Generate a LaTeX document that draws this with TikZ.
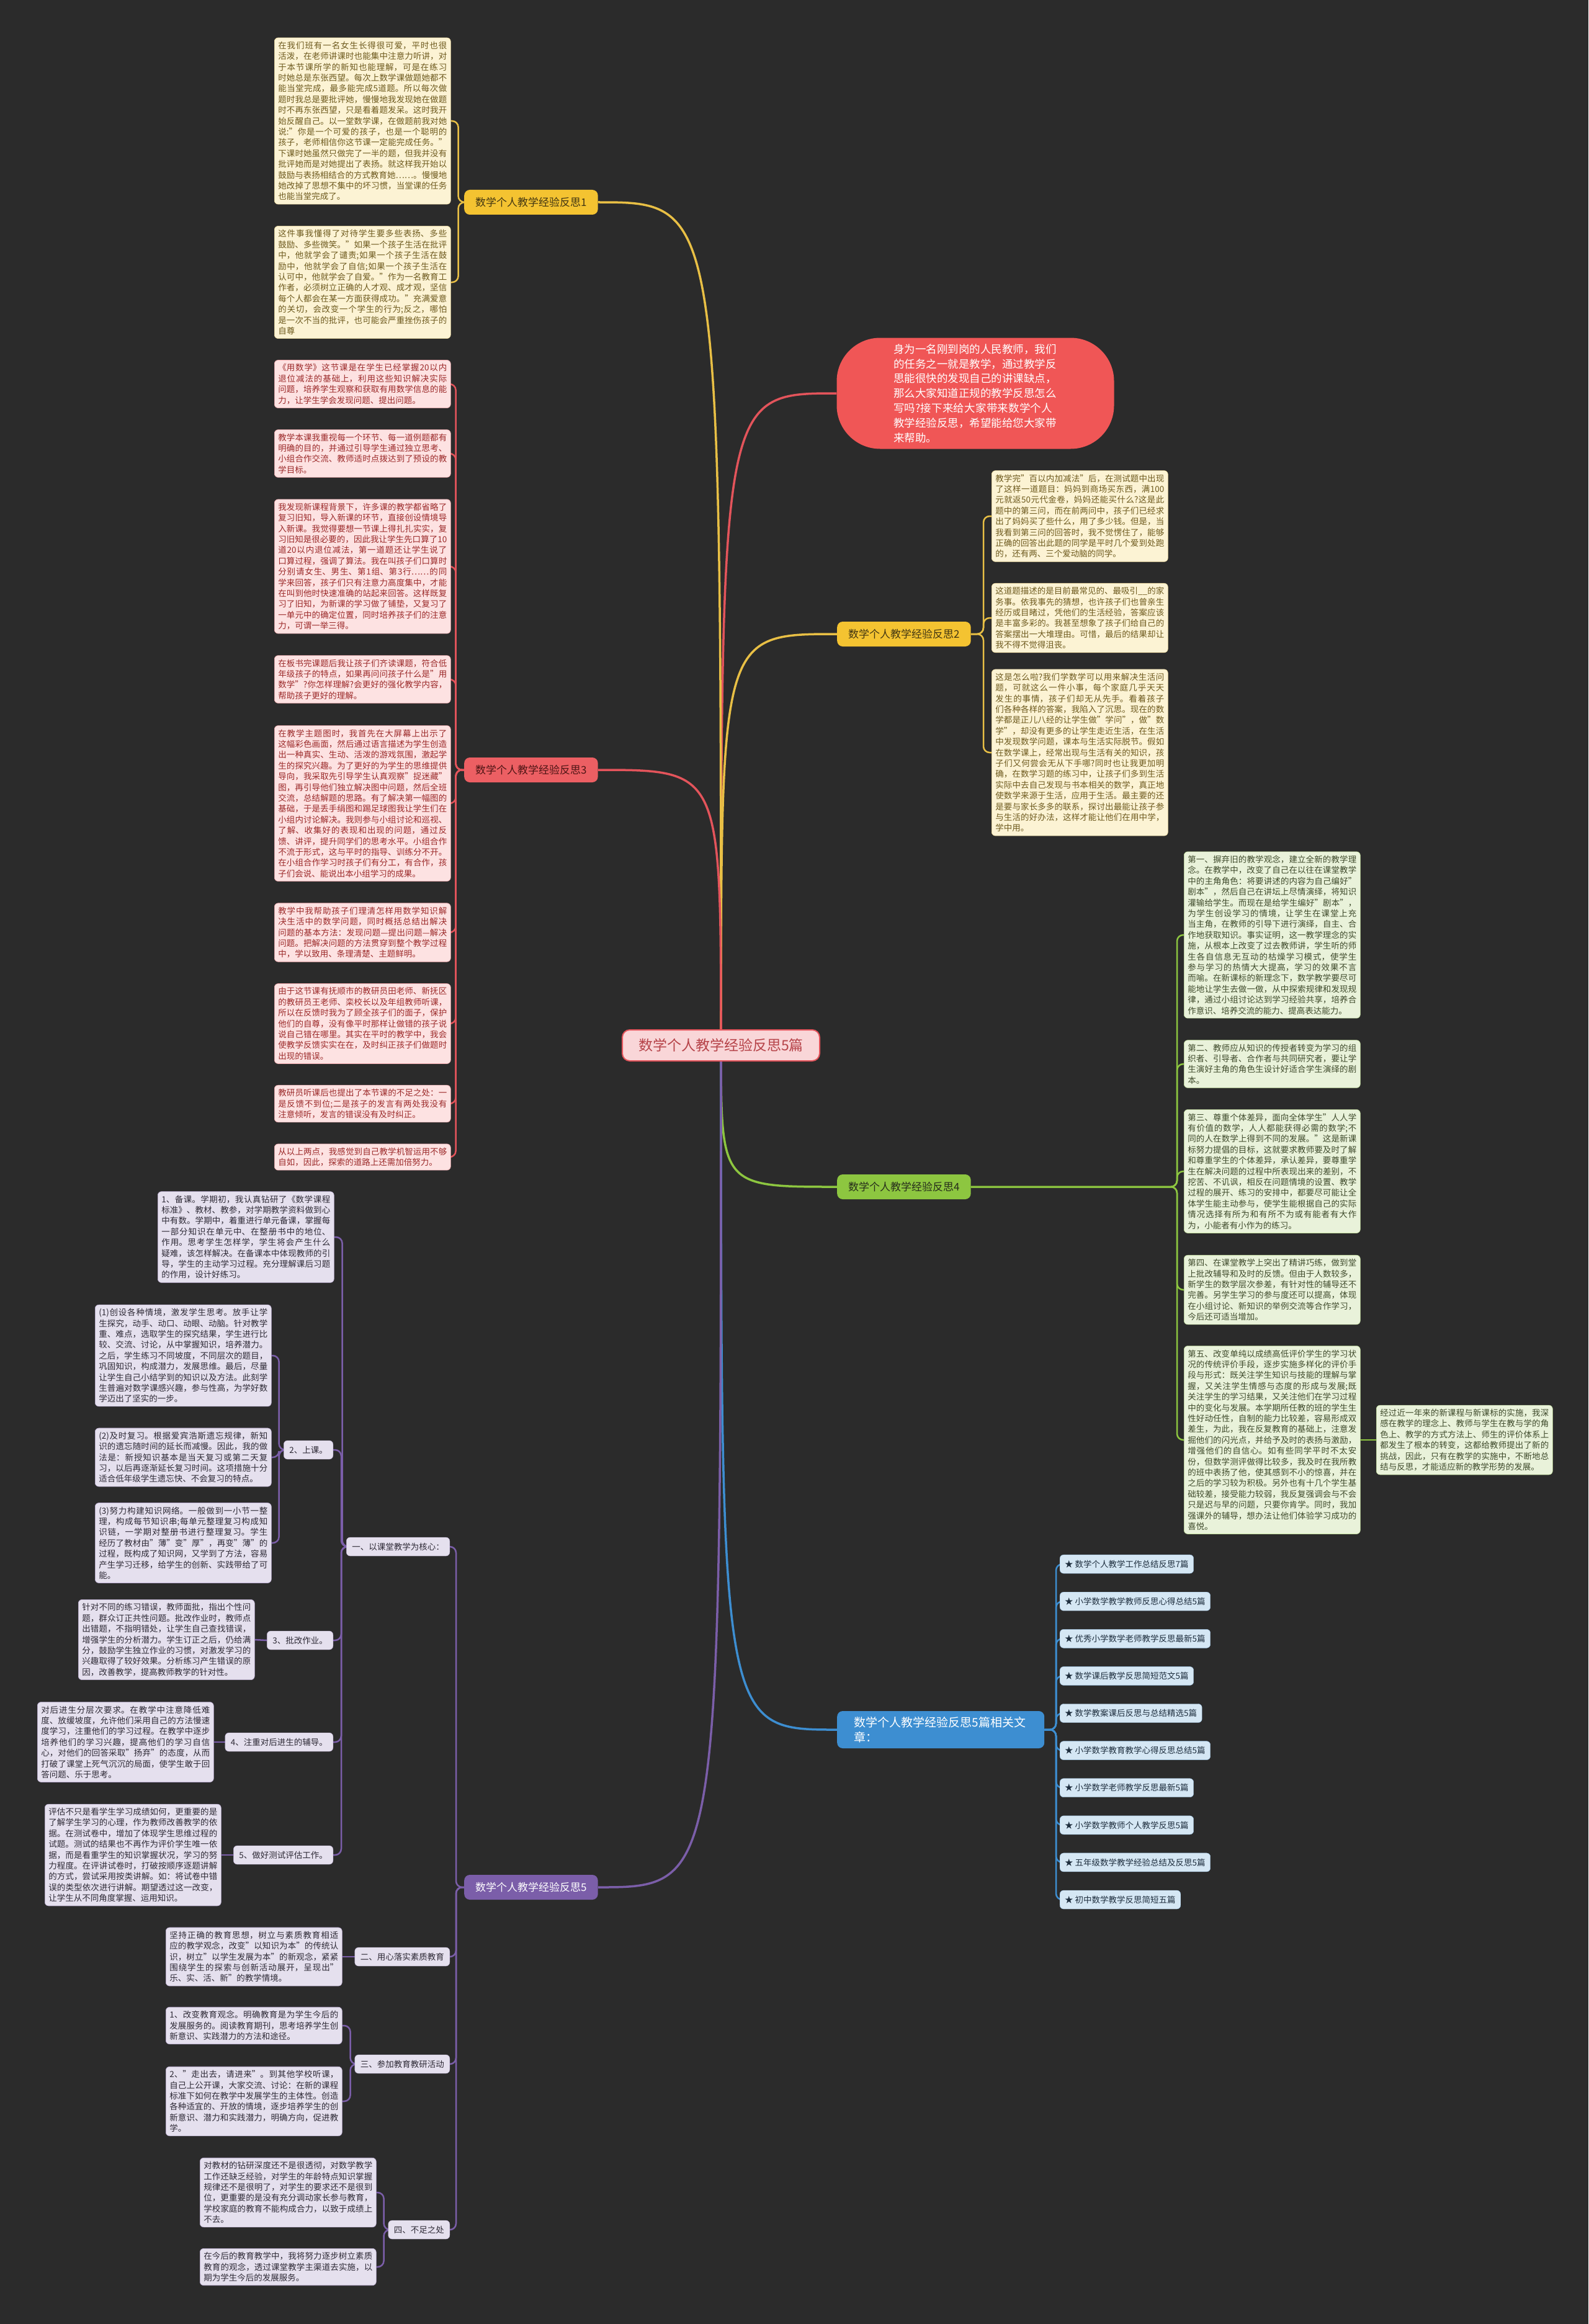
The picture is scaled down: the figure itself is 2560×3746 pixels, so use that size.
\documentclass[tikz,border=0pt]{standalone}
\usepackage{fontspec}
\setmainfont{Noto Sans CJK SC}
\XeTeXlinebreaklocale "zh"
\XeTeXlinebreakskip=0pt plus 1pt
\usetikzlibrary{calc}

\definecolor{bgc}{HTML}{2B2B2B}
\definecolor{ylwline}{HTML}{E8BF45}
\definecolor{ylwfill}{HTML}{FCF3D4}
\definecolor{ylwtext}{HTML}{6E5A1E}
\definecolor{ylwnode}{HTML}{F4C331}
\definecolor{redline}{HTML}{E3545B}
\definecolor{redfill}{HTML}{FDE2E2}
\definecolor{redtext}{HTML}{9C2A2A}
\definecolor{rednode}{HTML}{EC5F63}
\definecolor{grnline}{HTML}{8DC640}
\definecolor{grnfill}{HTML}{E9F2DA}
\definecolor{grntext}{HTML}{3F4B2C}
\definecolor{bluline}{HTML}{3D8ED1}
\definecolor{blufill}{HTML}{D5E7F4}
\definecolor{blutext}{HTML}{1E2E3E}
\definecolor{purline}{HTML}{7B5EA9}
\definecolor{purfill}{HTML}{E5E0EE}
\definecolor{purtext}{HTML}{2E2A36}
\definecolor{ctrfill}{HTML}{F9D6D8}
\definecolor{bubfill}{HTML}{F05656}

\pgfdeclarelayer{back}
\pgfdeclarelayer{lines}
\pgfsetlayers{back,lines,main}

\tikzset{
  leaf/.style={rounded corners=6pt, text width=272pt, inner xsep=6pt, inner ysep=6pt,
    align=justify, anchor=west, line width=0.6pt, font=\fontsize{13.5}{17.4}\selectfont},
  yleaf/.style={leaf, fill=ylwfill, draw=ylwline!50, text=ylwtext},
  rleaf/.style={leaf, fill=redfill, draw=redline!50, text=redtext},
  gleaf/.style={leaf, fill=grnfill, draw=grnline!50, text=grntext},
  pleaf/.style={leaf, fill=purfill, draw=purline!50, text=purtext},
  branch/.style={rounded corners=9pt, inner xsep=18pt, minimum height=40pt, anchor=west,
    font=\fontsize{17}{21}\selectfont},
  twig/.style={rounded corners=6pt, inner xsep=9pt, minimum height=30pt, anchor=east,
    fill=purfill, draw=purline!50, text=purtext, font=\fontsize{13.5}{16}\selectfont},
  link/.style={rounded corners=6pt, inner xsep=8pt, minimum height=30pt, anchor=west,
    fill=blufill, draw=bluline!50, text=blutext, font=\fontsize{13.5}{16}\selectfont},
  tie/.style={line width=2.5pt, rounded corners=10pt},
  curve/.style={line width=3.5pt},
}

\begin{document}
\begin{tikzpicture}[x=1pt, y=-1pt]
  \useasboundingbox (0,0) rectangle (2560,3746);
  \begin{pgfonlayer}{back}
    \fill[bgc] (0,0) rectangle (2560,3746);
  \end{pgfonlayer}

  % Centre and intro
  \node[rounded corners=12pt, fill=ctrfill, draw=redline, line width=2pt, minimum width=318pt,
    minimum height=50pt, text=redline!80!black, font=\fontsize{23}{27}\selectfont]
    (ctr) at (1162,1685) {数学个人教学经验反思5篇};
  \node[rounded corners=70pt, fill=bubfill, minimum width=447pt, minimum height=179pt,
    text=white, font=\fontsize{17.5}{23.8}\selectfont, align=left, text width=264pt]
    (bub) at (1572,634) {身为一名刚到岗的人民教师，我们的任务之一就是教学，通过教学反思能很快的发现自己的讲课缺点，那么大家知道正规的教学反思怎么写吗?接下来给大家带来数学个人教学经验反思，希望能给您大家带来帮助。};

  % Branches
  \node[branch, fill=ylwnode, text=ylwtext!60!black] (b1) at (748,326) {数学个人教学经验反思1};
  \node[branch, fill=ylwnode, text=ylwtext!60!black] (b2) at (1349,1022) {数学个人教学经验反思2};
  \node[branch, fill=rednode, text=redtext!50!black] (b3) at (748,1241) {数学个人教学经验反思3};
  \node[branch, fill=grnline, text=grntext!60!black] (b4) at (1349,1913) {数学个人教学经验反思4};
  \node[branch, fill=bluline, text=white, text width=280pt, align=left, minimum height=60pt,
    inner xsep=27pt, font=\fontsize{19}{24}\selectfont] (rel) at (1349,2788) {数学个人教学经验反思5篇相关文章：};
  \node[branch, fill=purline, text=white] (b5) at (748,3042) {数学个人教学经验反思5};

  % Reflection 1
  \node[yleaf] (y1a) at (442,195) {在我们班有一名女生长得很可爱，平时也很活泼，在老师讲课时也能集中注意力听讲，对于本节课所学的新知也能理解，可是在练习时她总是东张西望。每次上数学课做题她都不能当堂完成，最多能完成5道题。所以每次做题时我总是要批评她，慢慢地我发现她在做题时不再东张西望，只是看着题发呆。这时我开始反醒自己。以一堂数学课，在做题前我对她说:"你是一个可爱的孩子，也是一个聪明的孩子，老师相信你这节课一定能完成任务。"下课时她虽然只做完了一半的题，但我并没有批评她而是对她提出了表扬。就这样我开始以鼓励与表扬相结合的方式教育她……。慢慢地她改掉了思想不集中的坏习惯，当堂课的任务也能当堂完成了。};
  \node[yleaf] (y1b) at (442,455) {这件事我懂得了对待学生要多些表扬、多些鼓励、多些微笑。"如果一个孩子生活在批评中，他就学会了谴责;如果一个孩子生活在鼓励中，他就学会了自信;如果一个孩子生活在认可中，他就学会了自爱。"作为一名教育工作者，必须树立正确的人才观、成才观，坚信每个人都会在某一方面获得成功。"充满爱意的关切，会改变一个学生的行为;反之，哪怕是一次不当的批评，也可能会严重挫伤孩子的自尊};

  % Reflection 2
  \node[yleaf] (y2a) at (1598,832) {教学完"百以内加减法"后，在测试题中出现了这样一道题目：妈妈到商场买东西，满100元就返50元代金卷，妈妈还能买什么?这是此题中的第三问，而在前两问中，孩子们已经求出了妈妈买了些什么，用了多少钱。但是，当我看到第三问的回答时，我不觉愣住了，能够正确的回答出此题的同学是平时几个爱到处跑的，还有两、三个爱动脑的同学。};
  \node[yleaf] (y2b) at (1598,996) {这道题描述的是目前最常见的、最吸引\_\_的家务事。依我事先的猜想，也许孩子们也曾亲生经历或目睹过，凭他们的生活经验，答案应该是丰富多彩的。我甚至想象了孩子们给自己的答案摆出一大堆理由。可惜，最后的结果却让我不得不觉得沮丧。};
  \node[yleaf] (y2c) at (1598,1213) {这是怎么啦?我们学数学可以用来解决生活问题，可就这么一件小事，每个家庭几乎天天发生的事情，孩子们却无从先手。看着孩子们各种各样的答案，我陷入了沉思。现在的数学都是正儿八经的让学生做"学问"，做"数学"，却没有更多的让学生走近生活，在生活中发现数学问题，课本与生活实际脱节。假如在数学课上，经常出现与生活有关的知识，孩子们又何尝会无从下手哪?同时也让我更加明确，在数学习题的练习中，让孩子们多到生活实际中去自己发现与书本相关的数学，真正地使数学来源于生活，应用于生活。最主要的还是要与家长多多的联系，探讨出最能让孩子参与生活的好办法，这样才能让他们在用中学，学中用。};

  % Reflection 3
  \node[rleaf] (r3a) at (442,619) {《用数学》这节课是在学生已经掌握20以内退位减法的基础上，利用这些知识解决实际问题，培养学生观察和获取有用数学信息的能力，让学生学会发现问题、提出问题。};
  \node[rleaf] (r3b) at (442,731) {教学本课我重视每一个环节、每一道例题都有明确的目的，并通过引导学生通过独立思考、小组合作交流、教师适时点拨达到了预设的教学目标。};
  \node[rleaf] (r3c) at (442,913) {我发现新课程背景下，许多课的教学都省略了复习旧知，导入新课的环节，直接创设情境导入新课。我觉得要想一节课上得扎扎实实，复习旧知是很必要的，因此我让学生先口算了10道20以内退位减法，第一道题还让学生说了口算过程，强调了算法。我在叫孩子们口算时分别请女生、男生、第1组、第3行……的同学来回答，孩子们只有注意力高度集中，才能在叫到他时快速准确的站起来回答。这样既复习了旧知，为新课的学习做了铺垫，又复习了一单元中的确定位置，同时培养孩子们的注意力，可谓一举三得。};
  \node[rleaf] (r3d) at (442,1095) {在板书完课题后我让孩子们齐读课题，符合低年级孩子的特点，如果再问问孩子什么是"用数学"?你怎样理解?会更好的强化教学内容，帮助孩子更好的理解。};
  \node[rleaf] (r3e) at (442,1295) {在教学主题图时，我首先在大屏幕上出示了这幅彩色画面，然后通过语言描述为学生创造出一种真实、生动、活泼的游戏氛围，激起学生的探究兴趣。为了更好的为学生的思维提供导向，我采取先引导学生认真观察"捉迷藏"图，再引导他们独立解决图中问题，然后全班交流，总结解题的思路。有了解决第一幅图的基础，于是丢手绢图和踢足球图我让学生们在小组内讨论解决。我则参与小组讨论和巡视、了解、收集好的表现和出现的问题，通过反馈、讲评，提升同学们的思考水平。小组合作不流于形式，这与平时的指导、训练分不开。在小组合作学习时孩子们有分工，有合作，孩子们会说、能说出本小组学习的成果。};
  \node[rleaf] (r3f) at (442,1503) {教学中我帮助孩子们理清怎样用数学知识解决生活中的数学问题，同时概括总结出解决问题的基本方法：发现问题—提出问题—解决问题。把解决问题的方法贯穿到整个教学过程中，学以致用、条理清楚、主题鲜明。};
  \node[rleaf] (r3g) at (442,1650) {由于这节课有抚顺市的教研员田老师、新抚区的教研员王老师、栾校长以及年组教师听课，所以在反馈时我为了顾全孩子们的面子，保护他们的自尊，没有像平时那样让做错的孩子说说自己错在哪里。其实在平时的教学中，我会使教学反馈实实在在，及时纠正孩子们做题时出现的错误。};
  \node[rleaf] (r3h) at (442,1779) {教研员听课后也提出了本节课的不足之处：一是反馈不到位;二是孩子的发言有两处我没有注意倾听，发言的错误没有及时纠正。};
  \node[rleaf] (r3i) at (442,1865) {从以上两点，我感觉到自己教学机智运用不够自如，因此，探索的道路上还需加倍努力。};

  % Reflection 4
  \node[gleaf] (g4a) at (1908,1507) {第一、摒弃旧的教学观念，建立全新的教学理念。在教学中，改变了自己在以往在课堂教学中的主角角色：将要讲述的内容为自己编好"剧本"，然后自己在讲坛上尽情演绎，将知识灌输给学生。而现在是给学生编好"剧本"，为学生创设学习的情境，让学生在课堂上充当主角，在教师的引导下进行演绎，自主、合作地获取知识。事实证明，这一教学理念的实施，从根本上改变了过去教师讲，学生听的师生各自信息无互动的枯燥学习模式，使学生参与学习的热情大大提高，学习的效果不言而喻。在新课标的新理念下，数学教学要尽可能地让学生去做一做，从中探索规律和发现规律，通过小组讨论达到学习经验共享，培养合作意识、培养交流的能力、提高表达能力。};
  \node[gleaf] (g4b) at (1908,1715) {第二、教师应从知识的传授者转变为学习的组织者、引导者、合作者与共同研究者，要让学生演好主角的角色生设计好适合学生演绎的剧本。};
  \node[gleaf] (g4c) at (1908,1888) {第三、尊重个体差异，面向全体学生"人人学有价值的数学，人人都能获得必需的数学;不同的人在数学上得到不同的发展。"这是新课标努力提倡的目标，这就要求教师要及时了解和尊重学生的个体差异，承认差异，要尊重学生在解决问题的过程中所表现出来的差别，不挖苦、不讥讽，相反在问题情境的设置、教学过程的展开、练习的安排中，都要尽可能让全体学生能主动参与，使学生能根据自己的实际情况选择有所为和有所不为或有能者有大作为，小能者有小作为的练习。};
  \node[gleaf] (g4d) at (1908,2079) {第四、在课堂教学上突出了精讲巧练，做到堂上批改辅导和及时的反馈。但由于人数较多，新学生的数学层次参差，有针对性的辅导还不完善。另学生学习的参与度还可以提高，体现在小组讨论、新知识的举例交流等合作学习，今后还可适当增加。};
  \node[gleaf] (g4e) at (1908,2321) {第五、改变单纯以成绩高低评价学生的学习状况的传统评价手段，逐步实施多样化的评价手段与形式：既关注学生知识与技能的理解与掌握，又关注学生情感与态度的形成与发展;既关注学生的学习结果，又关注他们在学习过程中的变化与发展。本学期所任教的班的学生生性好动任性，自制的能力比较差，容易形成双差生，为此，我在反复教育的基础上，注意发掘他们的闪光点，并给予及时的表扬与激励，增强他们的自信心。如有些同学平时不太安份，但数学测评做得比较多，我及时在我所教的班中表扬了他，使其感到不小的惊喜，并在之后的学习较为积极。另外也有十几个学生基础较差，接受能力较弱，我反复强调会与不会只是迟与早的问题，只要你肯学。同时，我加强课外的辅导，想办法让他们体验学习成功的喜悦。};
  \node[gleaf] (g4f) at (2218,2321) {经过近一年来的新课程与新课标的实施，我深感在教学的理念上、教师与学生在教与学的角色上、教学的方式方法上、师生的评价体系上都发生了根本的转变，这都给教师提出了新的挑战，因此，只有在教学的实施中，不断地总结与反思，才能适应新的教学形势的发展。};

  % Related articles
  \foreach \t [count=\i] in {数学个人教学工作总结反思7篇, 小学数学教学教师反思心得总结5篇,
      优秀小学数学老师教学反思最新5篇, 数学课后教学反思简短范文5篇, 数学教案课后反思与总结精选5篇,
      小学数学教育教学心得反思总结5篇, 小学数学老师教学反思最新5篇, 小学数学教师个人教学反思5篇,
      五年级数学教学经验总结及反思5篇, 初中数学教学反思简短五篇}
    \node[link] (lk\i) at (1708,{2461+60.1*\i}) {★ \t};

  % Reflection 5
  \node[twig] (s1) at (725,2493) {一、以课堂教学为核心：};
  \node[twig] (s2) at (725,3154) {二、用心落实素质教育};
  \node[twig] (s3) at (725,3327) {三、参加教育教研活动};
  \node[twig] (s4) at (725,3594) {四、不足之处};
  \node[pleaf] (t1) at (254,1994) {1、备课。学期初，我认真钻研了《数学课程标准》、教材、教参，对学期教学资料做到心中有数。学期中，着重进行单元备课，掌握每一部分知识在单元中、在整册书中的地位、作用。思考学生怎样学，学生将会产生什么疑难，该怎样解决。在备课本中体现教师的引导，学生的主动学习过程。充分理解课后习题的作用，设计好练习。};
  \node[twig] (t2) at (537,2337) {2、上课。};
  \node[twig] (t3) at (537,2644) {3、批改作业。};
  \node[twig] (t4) at (537,2808) {4、注重对后进生的辅导。};
  \node[twig] (t5) at (537,2990) {5、做好测试评估工作。};
  \node[pleaf] (c21) at (153,2185) {(1)创设各种情境，激发学生思考。放手让学生探究，动手、动口、动眼、动脑。针对教学重、难点，选取学生的探究结果，学生进行比较、交流、讨论，从中掌握知识，培养潜力。之后，学生练习不同坡度，不同层次的题目，巩固知识，构成潜力，发展思维。最后，尽量让学生自己小结学到的知识以及方法。此刻学生普遍对数学课感兴趣，参与性高，为学好数学迈出了坚实的一步。};
  \node[pleaf] (c22) at (153,2349) {(2)及时复习。根据爱宾浩斯遗忘规律，新知识的遗忘随时间的延长而减慢。因此，我的做法是：新授知识基本是当天复习或第二天复习，以后再逐渐延长复习时间。这项措施十分适合低年级学生遗忘快、不会复习的特点。};
  \node[pleaf] (c23) at (153,2487) {(3)努力构建知识网络。一般做到一小节一整理，构成每节知识串;每单元整理复习构成知识链，一学期对整册书进行整理复习。学生经历了教材由"薄"变"厚"，再变"薄"的过程，既构成了知识网，又学到了方法，容易产生学习迁移，给学生的创新、实践带给了可能。};
  \node[pleaf] (c3) at (126,2643) {针对不同的练习错误，教师面批，指出个性问题，群众订正共性问题。批改作业时，教师点出错题，不指明错处，让学生自己查找错误，增强学生的分析潜力。学生订正之后，仍给满分，鼓励学生独立作业的习惯，对激发学习的兴趣取得了较好效果。分析练习产生错误的原因，改善教学，提高教师教学的针对性。};
  \node[pleaf] (c4) at (60,2808) {对后进生分层次要求。在教学中注意降低难度、放缓坡度，允许他们采用自己的方法慢速度学习，注重他们的学习过程。在教学中逐步培养他们的学习兴趣，提高他们的学习自信心，对他们的回答采取"扬弃"的态度，从而打破了课堂上死气沉沉的局面，使学生敢于回答问题、乐于思考。};
  \node[pleaf] (c5) at (72,2990) {评估不只是看学生学习成绩如何，更重要的是了解学生学习的心理，作为教师改善教学的依据。在测试卷中，增加了体现学生思维过程的试题。测试的结果也不再作为评价学生唯一依据，而是看重学生的知识掌握状况，学习的努力程度。在评讲试卷时，打破按顺序逐题讲解的方式，尝试采用按类讲解。如：将试卷中错误的类型依次进行讲解。期望透过这一改变，让学生从不同角度掌握、运用知识。};
  \node[pleaf] (c6) at (267,3154) {坚持正确的教育思想，树立与素质教育相适应的教学观念，改变"以知识为本"的传统认识，树立"以学生发展为本"的新观念，紧紧围绕学生的探索与创新活动展开，呈现出"乐、实、活、新"的教学情境。};
  \node[pleaf] (c71) at (267,3265) {1、改变教育观念。明确教育是为学生今后的发展服务的。阅读教育期刊，思考培养学生创新意识、实践潜力的方法和途径。};
  \node[pleaf] (c72) at (267,3387) {2、"走出去，请进来"。到其他学校听课，自己上公开课，大家交流、讨论：在新的课程标准下如何在教学中发展学生的主体性。创造各种适宜的、开放的情境，逐步培养学生的创新意识、潜力和实践潜力，明确方向，促进教学。};
  \node[pleaf] (c81) at (322,3534) {对教材的钻研深度还不是很透彻，对数学教学工作还缺乏经验，对学生的年龄特点知识掌握规律还不是很明了，对学生的要求还不是很到位，更重要的是没有充分调动家长参与教育，学校家庭的教育不能构成合力，以致于成绩上不去。};
  \node[pleaf] (c82) at (322,3654) {在今后的教育教学中，我将努力逐步树立素质教育的观念，透过课堂教学主渠道去实施，以期为学生今后的发展服务。};

  \begin{pgfonlayer}{lines}
    % Main curves
    \draw[curve, redline] (ctr.center) .. controls (ctr.center |- bub.west) .. (bub.west);
    \draw[curve, ylwline] (ctr.center) .. controls (ctr.center |- b1.east) .. (b1.east);
    \draw[curve, ylwline] (ctr.center) .. controls (ctr.center |- b2.west) .. (b2.west);
    \draw[curve, redline] (ctr.center) .. controls (ctr.center |- b3.east) .. (b3.east);
    \draw[curve, grnline] (ctr.center) .. controls (ctr.center |- b4.west) .. (b4.west);
    \draw[curve, bluline] (ctr.center) .. controls (ctr.center |- rel.west) .. (rel.west);
    \draw[curve, purline] (ctr.center) .. controls (ctr.center |- b5.east) .. (b5.east);

    % Ties
    \foreach \c in {y1a,y1b}
      \draw[tie, ylwline] (\c.east) -- ++(12,0) |- (b1.west);
    \foreach \c in {y2a,y2b,y2c}
      \draw[tie, ylwline] (\c.west) -- ++(-13,0) |- (b2.east);
    \foreach \c in {r3a,r3b,r3c,r3d,r3e,r3f,r3g,r3h,r3i}
      \draw[tie, redline] (\c.east) -- ++(8,0) |- (b3.west);
    \foreach \c in {g4a,g4b,g4c,g4d,g4e}
      \draw[tie, grnline] (\c.west) -- ++(-11,0) |- (b4.east);
    \draw[tie, grnline] (g4e.east) -- (g4f.west);
    \foreach \i in {1,...,10}
      \draw[tie, bluline] (lk\i.west) -- ++(-6,0) |- (rel.east);
    \foreach \c in {s1,s2,s3,s4}
      \draw[tie, purline] (\c.east) -- ++(10,0) |- (b5.west);
    \foreach \c in {t1,t2,t3,t4,t5}
      \draw[tie, purline] (\c.east) -- ++(13,0) |- (s1.west);
    \foreach \c in {c21,c22,c23}
      \draw[tie, purline] (\c.east) -- ++(12,0) |- (t2.west);
    \draw[tie, purline] (c3.east) -- (t3.west);
    \draw[tie, purline] (c4.east) -- (t4.west);
    \draw[tie, purline] (c5.east) -- (t5.west);
    \draw[tie, purline] (c6.east) -- (s2.west);
    \foreach \c in {c71,c72}
      \draw[tie, purline] (\c.east) -- ++(13,0) |- (s3.west);
    \foreach \c in {c81,c82}
      \draw[tie, purline] (\c.east) -- ++(12,0) |- (s4.west);
  \end{pgfonlayer}
\end{tikzpicture}
\end{document}
